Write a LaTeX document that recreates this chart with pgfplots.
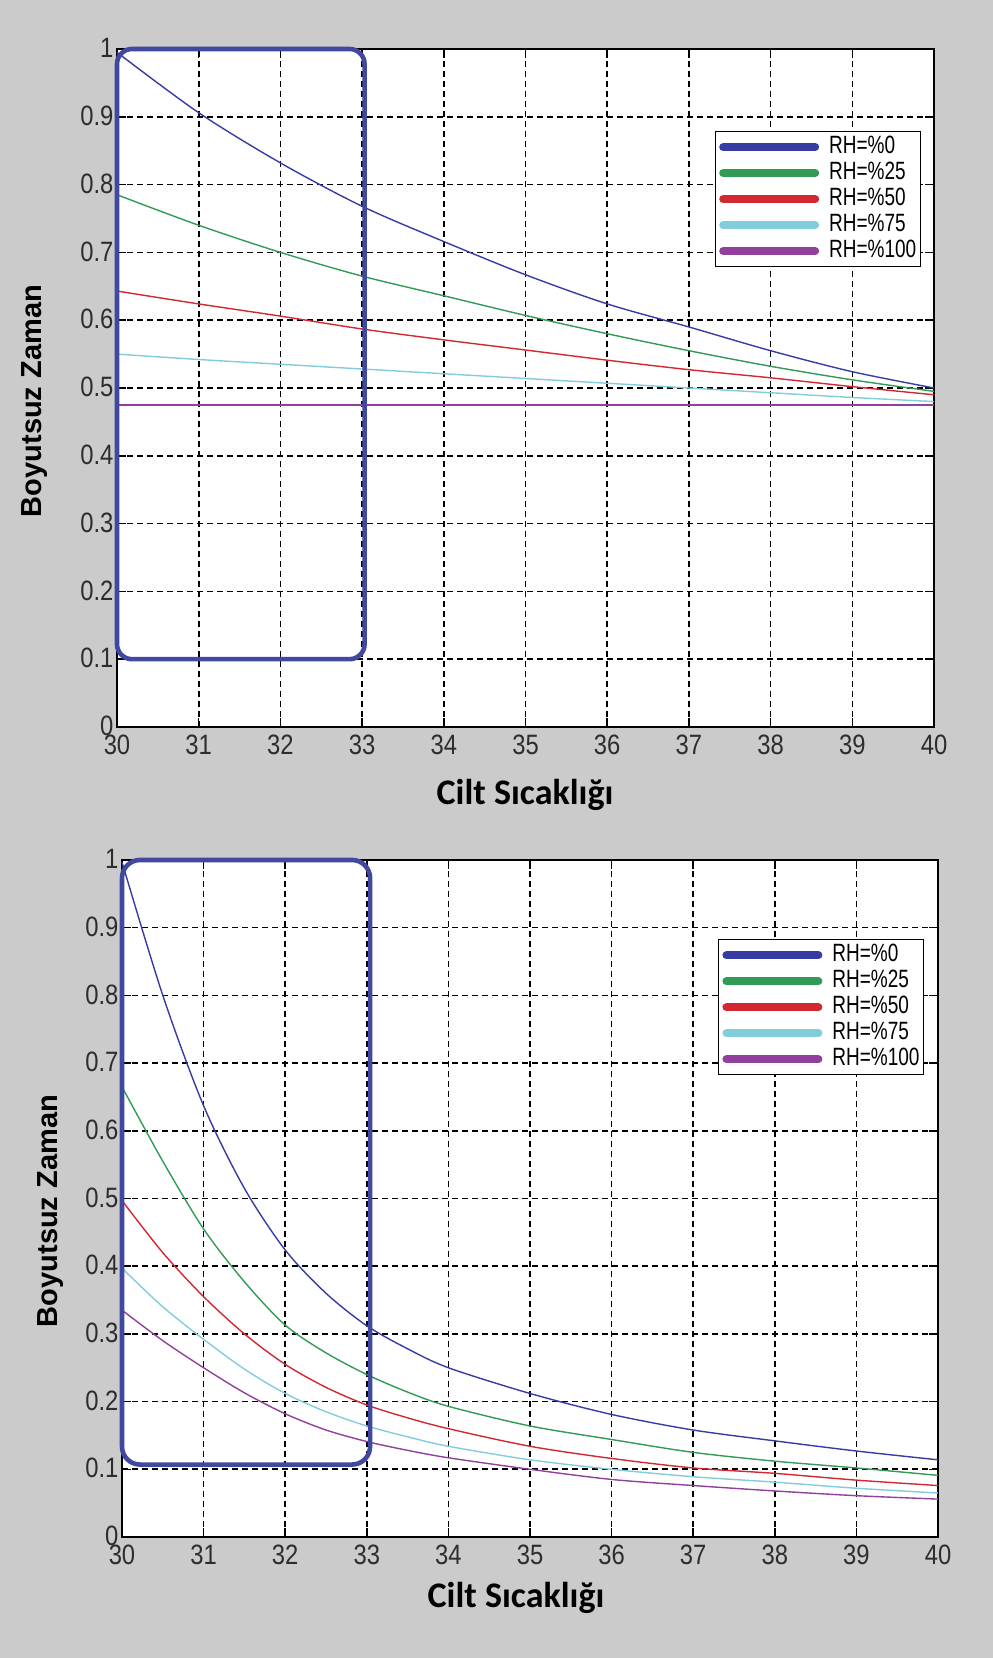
\documentclass[border=0pt]{standalone}
\usepackage{fontspec}
\setmainfont{Liberation Sans}
\newfontfamily\tickfont[FakeStretch=0.85]{Liberation Sans}
\newfontfamily\legfont[FakeStretch=0.76]{Liberation Sans}
\newfontfamily\labfont{Carlito}
\usepackage{pgfplots}
\pgfplotsset{compat=1.18}
\definecolor{bggray}{RGB}{203,203,203}
\definecolor{tickgray}{RGB}{45,45,45}
\definecolor{rectcol}{RGB}{65,72,160}
\definecolor{cblue}{RGB}{55,60,165}
\definecolor{cgreen}{RGB}{50,155,85}
\definecolor{cred}{RGB}{210,40,50}
\definecolor{ccyan}{RGB}{130,205,220}
\definecolor{cpurple}{RGB}{145,65,155}
\pgfplotsset{myax/.style={
  scale only axis, anchor=south west,
  xmin=30, xmax=40, ymin=0, ymax=1,
  xtick={30,31,32,33,34,35,36,37,38,39,40},
  ytick={0,0.1,0.2,0.3,0.4,0.5,0.6,0.7,0.8,0.9,1},
  grid=major,
  major grid style={black, line width=1.6pt, dash pattern=on 6pt off 4pt},
  axis line style={black, line width=1.5pt},
  tick style={black, line width=1.5pt},
  major tick length=9pt, tick align=inside,
  /pgf/number format/assume math mode=true,
  ticklabel style={font=\tickfont\fontsize{28}{28}\selectfont, text=tickgray},
  xticklabel style={yshift=-4pt},
  yticklabel style={xshift=0pt, yshift=1pt},
  axis background/.style={fill=white},
  clip=false,
  legend cell align=left,
  legend image code/.code={\draw[##1, line width=8pt, line cap=round] (4pt,0pt) -- (96pt,0pt);},
  legend style={anchor=north east, draw=black, line width=1.2pt, fill=white,
    inner xsep=4pt, inner ysep=5pt,
    font=\legfont\fontsize{25}{25}\selectfont, row sep=5pt,
    nodes={inner xsep=0pt, inner ysep=0pt, text height=17pt, text depth=4pt},
    /tikz/every odd column/.append style={column sep=10pt}},
  every axis plot/.append style={line width=1.4pt, smooth, tension=0.5},
}}
\begin{document}
\begin{tikzpicture}
\fill[bggray] (0pt,0pt) rectangle (993pt,1658pt);
% ---------- top ----------
\begin{axis}[myax, at={(117pt,931pt)}, width=817pt, height=678pt,
  legend style={at={(0.984,0.879)}}]
\addplot[cblue] coordinates {(30,0.995)(31,0.906)(32,0.832)(33,0.768)(34,0.716)(35,0.667)(36,0.624)(37,0.590)(38,0.555)(39,0.524)(40,0.500)};
\addplot[cgreen] coordinates {(30,0.785)(31,0.740)(32,0.700)(33,0.665)(34,0.636)(35,0.607)(36,0.580)(37,0.555)(38,0.532)(39,0.512)(40,0.495)};
\addplot[cred] coordinates {(30,0.643)(31,0.624)(32,0.606)(33,0.587)(34,0.571)(35,0.556)(36,0.541)(37,0.527)(38,0.515)(39,0.502)(40,0.490)};
\addplot[ccyan] coordinates {(30,0.550)(31,0.542)(32,0.535)(33,0.528)(34,0.521)(35,0.514)(36,0.507)(37,0.500)(38,0.493)(39,0.486)(40,0.480)};
\addplot[cpurple] coordinates {(30,0.475)(31,0.475)(32,0.475)(33,0.475)(34,0.475)(35,0.475)(36,0.475)(37,0.475)(38,0.475)(39,0.475)(40,0.475)};
\legend{RH=\%0,RH=\%25,RH=\%50,RH=\%75,RH=\%100}
\draw[rectcol, line width=4.6pt, rounded corners=15pt] (axis cs:30,0.1) rectangle (axis cs:33.03,1);
\end{axis}
% ---------- bottom ----------
\begin{axis}[myax, at={(122pt,121pt)}, width=816pt, height=677pt,
  legend style={at={(0.983,0.883)}}]
\addplot[cblue] coordinates {(30,0.997)(30.5,0.80)(31,0.637)(31.5,0.515)(32,0.424)(32.5,0.360)(33,0.312)(33.5,0.278)(34,0.250)(35,0.212)(36,0.181)(37,0.158)(38,0.142)(39,0.127)(40,0.114)};
\addplot[cgreen] coordinates {(30,0.665)(30.5,0.555)(31,0.455)(31.5,0.377)(32,0.313)(32.5,0.272)(33,0.240)(33.5,0.214)(34,0.193)(35,0.164)(36,0.144)(37,0.125)(38,0.112)(39,0.102)(40,0.091)};
\addplot[cred] coordinates {(30,0.497)(30.5,0.42)(31,0.355)(31.5,0.30)(32,0.255)(32.5,0.221)(33,0.195)(33.5,0.176)(34,0.160)(35,0.134)(36,0.116)(37,0.102)(38,0.094)(39,0.084)(40,0.076)};
\addplot[ccyan] coordinates {(30,0.397)(30.5,0.34)(31,0.292)(31.5,0.248)(32,0.212)(32.5,0.185)(33,0.164)(33.5,0.148)(34,0.134)(35,0.114)(36,0.100)(37,0.089)(38,0.081)(39,0.072)(40,0.065)};
\addplot[cpurple] coordinates {(30,0.335)(30.5,0.29)(31,0.25)(31.5,0.213)(32,0.182)(32.5,0.158)(33,0.141)(33.5,0.128)(34,0.117)(35,0.100)(36,0.085)(37,0.076)(38,0.068)(39,0.061)(40,0.056)};
\legend{RH=\%0,RH=\%25,RH=\%50,RH=\%75,RH=\%100}
\draw[rectcol, line width=4.6pt, rounded corners=18pt] (axis cs:30,0.107) rectangle (axis cs:33.04,1);
\end{axis}
% ---------- labels ----------
\node[inner sep=0pt, anchor=base, font=\labfont\bfseries\fontsize{36}{36}\selectfont] at (525pt,853pt) {Cilt Sıcaklığı};
\node[inner sep=0pt, anchor=base, font=\labfont\bfseries\fontsize{36}{36}\selectfont] at (516pt,50pt) {Cilt Sıcaklığı};
\node[inner sep=0pt, rotate=90, font=\bfseries\fontsize{29}{29}\selectfont] at (35pt,1257pt) {Boyutsuz Zaman};
\node[inner sep=0pt, rotate=90, font=\bfseries\fontsize{29}{29}\selectfont] at (51pt,447pt) {Boyutsuz Zaman};
\end{tikzpicture}
\end{document}
